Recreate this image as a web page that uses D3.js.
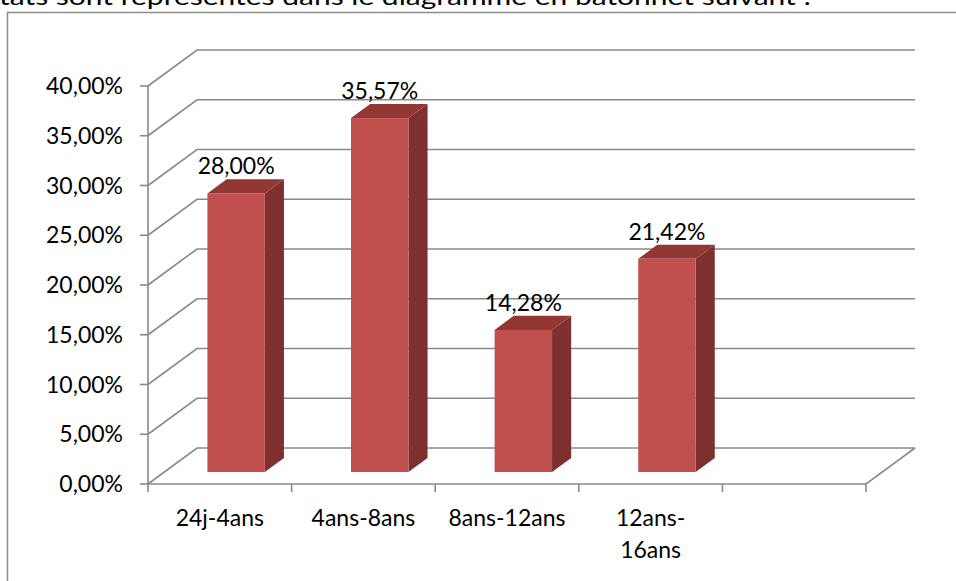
<!DOCTYPE html>
<html>
<head>
<meta charset="utf-8">
<script src="https://cdn.jsdelivr.net/npm/d3@7"></script>
<style>
  body { margin: 0; background: #fff; overflow: hidden; }
  text { font-family: Lato, "Open Sans", sans-serif; fill: #000; }
</style>
</head>
<body>
<script>
var categories = ["24j-4ans", "4ans-8ans", "8ans-12ans", "12ans-16ans"];
var values = [0.28, 0.3557, 0.1428, 0.2142];
var valueLabels = ["28,00%", "35,57%", "14,28%", "21,42%"];
var yTicks = [0, 0.05, 0.10, 0.15, 0.20, 0.25, 0.30, 0.35, 0.40];
var slots = 5;   // one empty slot on the right, like the original

var width = 956,
    height = 581,
    depthX = 49,
    depthY = -36,
    grid = "#8a8a8a";

var svg = d3.select("body").append("svg")
    .attr("width", width)
    .attr("height", height);

// sentence cut off above the chart frame
svg.append("text")
    .attr("x", -1)
    .attr("y", 5)
    .attr("font-size", 24)
    .attr("textLength", 812)
    .attr("lengthAdjust", "spacingAndGlyphs")
    .text("tats sont représentés dans le diagramme en bâtonnet suivant :");

// frame
svg.append("path")
    .attr("d", "M7.5,581V12.5H956")
    .attr("fill", "none")
    .attr("stroke", "#8c8c8c")
    .attr("stroke-width", 1.5);

var x = d3.scaleBand()
    .domain(d3.range(slots))
    .range([148, 866]);

var y = d3.scaleLinear()
    .domain([0, 0.40])
    .range([484, 86]);

var g = svg.append("g");

// back wall grid lines and side wall diagonals
yTicks.forEach(function(t) {
    var yy = y(t);
    g.append("path")
        .attr("d", "M" + x.range()[0] + "," + yy +
                   "L" + (x.range()[0] + depthX) + "," + (yy + depthY) +
                   "H" + (x.range()[1] + depthX))
        .attr("fill", "none")
        .attr("stroke", grid)
        .attr("stroke-width", 1.6);
});

// floor
g.append("path")
    .attr("d", "M" + x.range()[0] + "," + y(0) + "H" + x.range()[1] +
               "L" + (x.range()[1] + depthX) + "," + (y(0) + depthY))
    .attr("fill", "none")
    .attr("stroke", grid)
    .attr("stroke-width", 1.6);

// vertical axis
g.append("line")
    .attr("x1", x.range()[0]).attr("x2", x.range()[0])
    .attr("y1", y(0.40)).attr("y2", y(0))
    .attr("stroke", grid)
    .attr("stroke-width", 1.6);

g.selectAll(".ytick")
    .data(yTicks)
    .enter().append("line")
    .attr("x1", x.range()[0] - 8).attr("x2", x.range()[0])
    .attr("y1", function(d) { return y(d); })
    .attr("y2", function(d) { return y(d); })
    .attr("stroke", grid)
    .attr("stroke-width", 1.6);

g.selectAll(".ylabel")
    .data(yTicks)
    .enter().append("text")
    .attr("x", 123)
    .attr("y", function(d) { return y(d); })
    .attr("dy", "0.35em")
    .attr("text-anchor", "end")
    .attr("font-size", 23)
    .text(function(d) { return d3.format(".2%")(d).replace(".", ","); });

// category ticks on the floor edge
g.selectAll(".xtick")
    .data(d3.range(slots + 1))
    .enter().append("line")
    .attr("x1", function(i) { return x.range()[0] + i * x.step(); })
    .attr("x2", function(i) { return x.range()[0] + i * x.step(); })
    .attr("y1", y(0))
    .attr("y2", y(0) + 8)
    .attr("stroke", grid)
    .attr("stroke-width", 1.6);

var xl = g.selectAll(".xlabel")
    .data(categories)
    .enter().append("text")
    .attr("text-anchor", "middle")
    .attr("font-size", 23)
    .attr("transform", function(d, i) {
        return "translate(" + (x(i) + x.bandwidth() / 2) + ",526)";
    });

xl.each(function(d) {
    var lines = d.length > 10 ? [d.slice(0, d.lastIndexOf("-") + 1), d.slice(d.lastIndexOf("-") + 1)] : [d];
    d3.select(this).selectAll("tspan")
        .data(lines)
        .enter().append("tspan")
        .attr("x", 0)
        .attr("y", function(l, k) { return k * 32; })
        .text(function(l) { return l; });
});

// bars sit a third of the way into the depth
var front = 1 / 3, depth = 0.39;
var ox = depthX * front, oy = depthY * front;
var bx = depthX * depth, by = depthY * depth;
var barW = x.step() * 0.4;

var bars = g.selectAll(".bar")
    .data(values)
    .enter().append("g")
    .attr("class", "bar");

function barLeft(d, i) { return x(i) + x.bandwidth() / 2 - barW / 2 + ox; }
function barTop(d) { return y(d) + oy; }
var base = y(0) + oy;

bars.append("path")
    .attr("fill", "#7d302e")
    .attr("d", function(d, i) {
        var a = barLeft(d, i) + barW;
        return "M" + a + "," + barTop(d) + "L" + (a + bx) + "," + (barTop(d) + by) +
               "L" + (a + bx) + "," + (base + by) + "L" + a + "," + base + "Z";
    });

bars.append("path")
    .attr("fill", "#923734")
    .attr("d", function(d, i) {
        var a = barLeft(d, i);
        return "M" + a + "," + barTop(d) + "L" + (a + barW) + "," + barTop(d) +
               "L" + (a + barW + bx) + "," + (barTop(d) + by) + "L" + (a + bx) + "," + (barTop(d) + by) + "Z";
    });

bars.append("rect")
    .attr("fill", "#c0504d")
    .attr("x", function(d, i) { return barLeft(d, i); })
    .attr("y", function(d) { return barTop(d); })
    .attr("width", barW)
    .attr("height", function(d) { return base - barTop(d); });

bars.append("text")
    .attr("text-anchor", "middle")
    .attr("font-size", 23)
    .attr("x", function(d, i) { return barLeft(d, i) + barW / 2; })
    .attr("y", function(d) { return barTop(d) + by - 5; })
    .text(function(d, i) { return valueLabels[i]; });
</script>
</body>
</html>
